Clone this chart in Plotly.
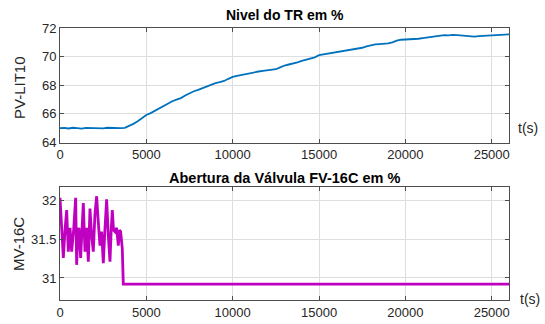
import plotly.graph_objects as go

# ---------------- data ----------------
pv_time = list(range(0, 26001, 250))
pv_level = [
    65.00, 65.02, 64.98, 65.03, 65.00, 64.97, 65.02, 65.01, 65.04, 65.00,
    64.99, 65.03, 65.01, 65.04, 65.00, 65.02, 65.15, 65.30, 65.48, 65.70,
    65.92, 66.05, 66.22, 66.40, 66.58, 66.72, 66.88, 67.00, 67.10, 67.28,
    67.45, 67.58, 67.68, 67.80, 67.95, 68.08, 68.15, 68.22, 68.30, 68.45,
    68.58, 68.65, 68.72, 68.75, 68.82, 68.90, 68.96, 69.00, 69.03, 69.08,
    69.12, 69.25, 69.38, 69.45, 69.50, 69.60, 69.70, 69.78, 69.85, 69.95,
    70.10, 70.15, 70.18, 70.25, 70.32, 70.38, 70.40, 70.48, 70.52, 70.55,
    70.62, 70.72, 70.80, 70.85, 70.88, 70.90, 70.92, 71.00, 71.12, 71.18,
    71.20, 71.18, 71.22, 71.25, 71.30, 71.35, 71.40, 71.42, 71.48, 71.50,
    71.48, 71.52, 71.50, 71.47, 71.45, 71.42, 71.40, 71.43, 71.45, 71.44,
    71.46, 71.48, 71.50, 71.53, 71.55,
]

mv_time = [0, 60, 135, 193, 290, 386, 482, 580, 675, 790, 906, 964, 1030,
           1100, 1195, 1270, 1350, 1446, 1543, 1640, 1736, 1833, 1929, 2025,
           2122, 2218, 2315, 2410, 2508, 2600, 2701, 2797, 2894, 2960, 3029,
           3100, 3183, 3280, 3376, 3450, 3511, 3607, 3665, 26000]
mv_open = [32.04, 31.80, 31.60, 31.26, 31.62, 31.88, 31.34, 31.65, 31.34,
           31.62, 32.04, 31.17, 31.55, 31.65, 31.26, 31.60, 31.97, 31.34,
           31.65, 31.21, 31.90, 31.55, 31.34, 31.83, 32.06, 31.72, 31.42,
           31.60, 31.19, 31.62, 32.02, 31.55, 31.21, 31.60, 31.88, 31.62,
           31.60, 31.65, 31.42, 31.62, 31.60, 31.38, 30.92, 30.92]

x_ticks = [0, 5000, 10000, 15000, 20000, 25000]
pv_ticks = [64, 66, 68, 70, 72]
mv_ticks = [31, 31.5, 32]

title_top = "Nivel do TR em %"
title_bot = "Abertura da Válvula FV-16C em %"
ylabel_top = "PV-LIT10"
ylabel_bot = "MV-16C"
xlabel = "t(s)"

# ---------------- figure ----------------
W, H = 545, 324
FONT = "Liberation Sans, Arial, sans-serif"
TXT = "#262626"

fig = go.Figure()
fig.add_trace(go.Scatter(x=pv_time, y=pv_level, mode="lines",
                         line=dict(color="#0072BD", width=1.8),
                         xaxis="x", yaxis="y", showlegend=False))
fig.add_trace(go.Scatter(x=mv_time, y=mv_open, mode="lines",
                         line=dict(color="#C000C0", width=2.8),
                         xaxis="x2", yaxis="y2", showlegend=False))

xdom = [60 / W, 509 / W]
top_dom = [(H - 142.5) / H, (H - 28) / H]
bot_dom = [(H - 300) / H, (H - 186.5) / H]

axis_common = dict(showgrid=True, gridcolor="#dedede", gridwidth=1,
                   showline=True, linecolor="#4d4d4d", linewidth=1,
                   mirror="all", ticks="inside", ticklen=4,
                   tickcolor="#4d4d4d", zeroline=False, automargin=False,
                   tickfont=dict(family=FONT, size=13, color=TXT))

fig.update_layout(
    template="none",
    width=W, height=H,
    margin=dict(l=0, r=0, t=0, b=0, autoexpand=False),
    paper_bgcolor="white", plot_bgcolor="white",
    xaxis=dict(domain=xdom, anchor="y", range=[0, 26000],
               tickvals=x_ticks, ticktext=[str(v) for v in x_ticks],
               **axis_common),
    yaxis=dict(domain=top_dom, anchor="x", range=[64, 72],
               tickvals=pv_ticks, ticktext=[str(v) for v in pv_ticks],
               **axis_common),
    xaxis2=dict(domain=xdom, anchor="y2", range=[0, 26000],
                tickvals=x_ticks, ticktext=[str(v) for v in x_ticks],
                **axis_common),
    yaxis2=dict(domain=bot_dom, anchor="x2", range=[30.714, 32.186],
                tickvals=mv_ticks, ticktext=["31", "31.5", "32"],
                **axis_common),
)

fig.add_annotation(text="<b>" + title_top + "</b>", xref="paper", yref="paper",
                   x=284.5 / W, y=(H - 15) / H, showarrow=False,
                   xanchor="center", yanchor="middle",
                   font=dict(family=FONT, size=14, color="#000000"))
fig.add_annotation(text="<b>" + title_bot + "</b>", xref="paper", yref="paper",
                   x=284.5 / W, y=(H - 178) / H, showarrow=False,
                   xanchor="center", yanchor="middle",
                   font=dict(family=FONT, size=14.5, color="#000000"))
fig.add_annotation(text=ylabel_top, xref="paper", yref="paper",
                   x=19 / W, y=(H - 88) / H, showarrow=False, textangle=-90,
                   xanchor="center", yanchor="middle",
                   font=dict(family=FONT, size=15, color=TXT))
fig.add_annotation(text=ylabel_bot, xref="paper", yref="paper",
                   x=18 / W, y=(H - 244) / H, showarrow=False, textangle=-90,
                   xanchor="center", yanchor="middle",
                   font=dict(family=FONT, size=15, color=TXT))
fig.add_annotation(text=xlabel, xref="paper", yref="paper",
                   x=516 / W, y=(H - 128) / H, showarrow=False,
                   xanchor="left", yanchor="middle",
                   font=dict(family=FONT, size=14, color=TXT))
fig.add_annotation(text=xlabel, xref="paper", yref="paper",
                   x=518 / W, y=(H - 299) / H, showarrow=False,
                   xanchor="left", yanchor="middle",
                   font=dict(family=FONT, size=14, color=TXT))

fig.write_html("out.html")
